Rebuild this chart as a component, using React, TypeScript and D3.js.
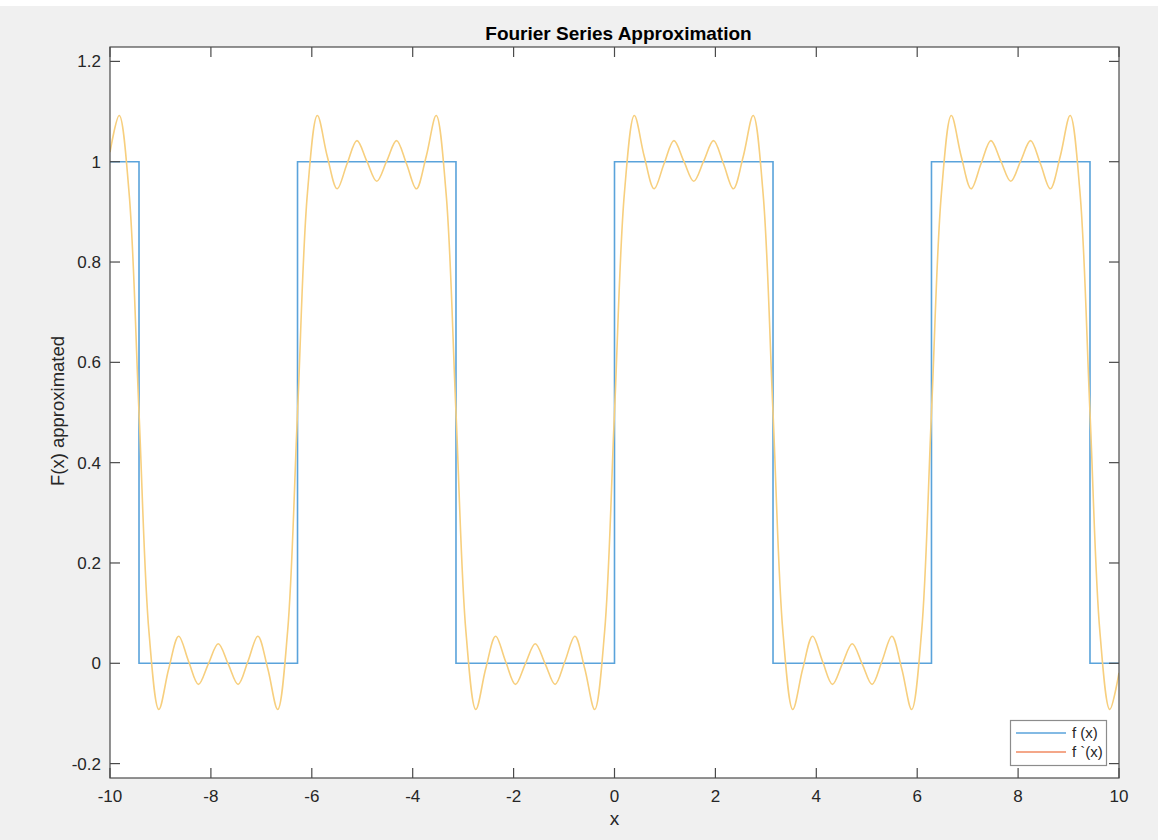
import React, { useEffect, useRef } from "react";
import * as d3 from "d3";

// square wave f(x), breakpoints
const stepX = [-10, -9.425, -6.283, -3.142, 0, 3.142, 6.283, 9.425, 10];
const stepY = [1, 0, 1, 0, 1, 0, 1, 0, 0];

// yellow approximation
const approxX = [
  -10, -9.817, -9.621, -9.425, -9.228, -9.032, -8.836, -8.639, -8.443, -8.247,
  -8.05, -7.854, -7.658, -7.461, -7.265, -7.069, -6.872, -6.676, -6.48, -6.283,
  -6.087, -5.89, -5.694, -5.498, -5.301, -5.105, -4.909, -4.712, -4.516, -4.32,
  -4.123, -3.927, -3.731, -3.534, -3.338, -3.142, -2.945, -2.749, -2.553, -2.356,
  -2.16, -1.963, -1.767, -1.571, -1.374, -1.178, -0.982, -0.785, -0.589, -0.393,
  -0.196, 0, 0.196, 0.393, 0.589, 0.785, 0.982, 1.178, 1.374, 1.571,
  1.767, 1.963, 2.16, 2.356, 2.553, 2.749, 2.945, 3.142, 3.338, 3.534,
  3.731, 3.927, 4.123, 4.32, 4.516, 4.712, 4.909, 5.105, 5.301, 5.498,
  5.694, 5.89, 6.087, 6.283, 6.48, 6.676, 6.872, 7.069, 7.265, 7.461,
  7.658, 7.854, 8.05, 8.247, 8.443, 8.639, 8.836, 9.032, 9.228, 9.425,
  9.621, 9.817, 10,
];
const approxY = [
  1.019, 1.092, 0.937, 0.5, 0.063, -0.092, -0.011, 0.054, 0.004, -0.042,
  -0.001, 0.039, -0.001, -0.042, 0.004, 0.054, -0.011, -0.092, 0.063, 0.5,
  0.937, 1.092, 1.011, 0.946, 0.996, 1.042, 1.001, 0.961, 1.001, 1.042,
  0.996, 0.946, 1.011, 1.092, 0.937, 0.5, 0.063, -0.092, -0.011, 0.054,
  0.004, -0.042, -0.001, 0.039, -0.001, -0.042, 0.004, 0.054, -0.011, -0.092,
  0.063, 0.5, 0.937, 1.092, 1.011, 0.946, 0.996, 1.042, 1.001, 0.961,
  1.001, 1.042, 0.996, 0.946, 1.011, 1.092, 0.937, 0.5, 0.063, -0.092,
  -0.011, 0.054, 0.004, -0.042, -0.001, 0.039, -0.001, -0.042, 0.004, 0.054,
  -0.011, -0.092, 0.063, 0.5, 0.937, 1.092, 1.011, 0.946, 0.996, 1.042,
  1.001, 0.961, 1.001, 1.042, 0.996, 0.946, 1.011, 1.092, 0.937, 0.5,
  0.063, -0.092, -0.019,
];

const xTicks = [-10, -8, -6, -4, -2, 0, 2, 4, 6, 8, 10];
const yTicks = [-0.2, 0, 0.2, 0.4, 0.6, 0.8, 1, 1.2];
const legendLabels = ["f (x)", "f `(x)"];
const legendColors = ["#5aa3db", "#f08a62"];

const W = 1168;
const H = 840;
const FONT = "Helvetica, Arial, 'Liberation Sans', sans-serif";

export default function App() {
  const ref = useRef<SVGSVGElement>(null);

  useEffect(() => {
    const svg = d3.select(ref.current);
    svg.selectAll("*").remove();

    var left = 110, right = 1119, top = 47, bottom = 778;
    var tickLen = 10;
    var axisColor = "#4a4a4a";
    var textColor = "#262626";

    svg.append("rect").attr("width", W).attr("height", H).attr("fill", "#fff");
    svg.append("rect").attr("x", 0).attr("y", 6).attr("width", 1158).attr("height", H - 6).attr("fill", "#f0f0f0");
    svg.append("rect")
      .attr("x", left).attr("y", top)
      .attr("width", right - left).attr("height", bottom - top)
      .attr("fill", "#fff");

    var x = d3.scaleLinear().domain([-10, 10]).range([left, right]);
    var y = d3.scaleLinear().domain([-0.2287, 1.2287]).range([bottom, top]);

    var clip = svg.append("clipPath").attr("id", "plotclip");
    clip.append("rect").attr("x", left).attr("y", top).attr("width", right - left).attr("height", bottom - top);
    var g = svg.append("g").attr("clip-path", "url(#plotclip)");

    var stepData = stepX.map((d, i) => [d, stepY[i]] as [number, number]);
    g.append("path")
      .datum(stepData)
      .attr("d", d3.line().x((d) => x(d[0])).y((d) => y(d[1])).curve(d3.curveStepAfter))
      .attr("fill", "none")
      .attr("stroke", "#5aa3db")
      .attr("stroke-width", 1.6);

    var approxData = approxX.map((d, i) => [d, approxY[i]] as [number, number]);
    g.append("path")
      .datum(approxData)
      .attr("d", d3.line().x((d) => x(d[0])).y((d) => y(d[1])).curve(d3.curveCatmullRom.alpha(0.5)))
      .attr("fill", "none")
      .attr("stroke", "#f7cf7e")
      .attr("stroke-width", 1.6);

    // box + ticks
    var ax = svg.append("g").attr("stroke", axisColor).attr("stroke-width", 1.2).attr("fill", "none");
    ax.append("rect").attr("x", left).attr("y", top).attr("width", right - left).attr("height", bottom - top);
    xTicks.forEach((t) => {
      ax.append("line").attr("x1", x(t)).attr("x2", x(t)).attr("y1", bottom).attr("y2", bottom - tickLen);
      ax.append("line").attr("x1", x(t)).attr("x2", x(t)).attr("y1", top).attr("y2", top + tickLen);
    });
    yTicks.forEach((t) => {
      ax.append("line").attr("x1", left).attr("x2", left + tickLen).attr("y1", y(t)).attr("y2", y(t));
      ax.append("line").attr("x1", right).attr("x2", right - tickLen).attr("y1", y(t)).attr("y2", y(t));
    });

    var txt = svg.append("g").attr("font-family", FONT).attr("fill", textColor);
    xTicks.forEach((t) => {
      txt.append("text").attr("x", x(t)).attr("y", 802).attr("text-anchor", "middle").attr("font-size", 17).text(String(t));
    });
    yTicks.forEach((t) => {
      txt.append("text").attr("x", 101).attr("y", y(t) + 6).attr("text-anchor", "end").attr("font-size", 17).text(String(t));
    });

    txt.append("text").attr("x", (left + right) / 2 + 4).attr("y", 40).attr("text-anchor", "middle")
      .attr("font-size", 19).attr("font-weight", "bold").attr("fill", "#000").text("Fourier Series Approximation");
    txt.append("text").attr("x", (left + right) / 2).attr("y", 825).attr("text-anchor", "middle")
      .attr("font-size", 19).text("x");
    txt.append("text").attr("transform", "translate(64,411) rotate(-90)").attr("text-anchor", "middle")
      .attr("font-size", 18.5).text("F(x) approximated");

    // legend
    var lg = svg.append("g");
    lg.append("rect").attr("x", 1010.5).attr("y", 720.5).attr("width", 96).attr("height", 45)
      .attr("fill", "#fff").attr("stroke", "#8c8c8c").attr("stroke-width", 1.2);
    legendLabels.forEach((lab, i) => {
      var ly = 733 + i * 19;
      lg.append("line").attr("x1", 1016).attr("x2", 1066).attr("y1", ly).attr("y2", ly)
        .attr("stroke", legendColors[i]).attr("stroke-width", 1.4);
      lg.append("text").attr("x", 1072).attr("y", ly + 5).attr("font-family", FONT).attr("font-size", 15)
        .attr("fill", textColor).text(lab);
    });
  }, []);

  return <svg ref={ref} width={W} height={H} style={{ position: "absolute", left: 0, top: 0 }} />;
}
